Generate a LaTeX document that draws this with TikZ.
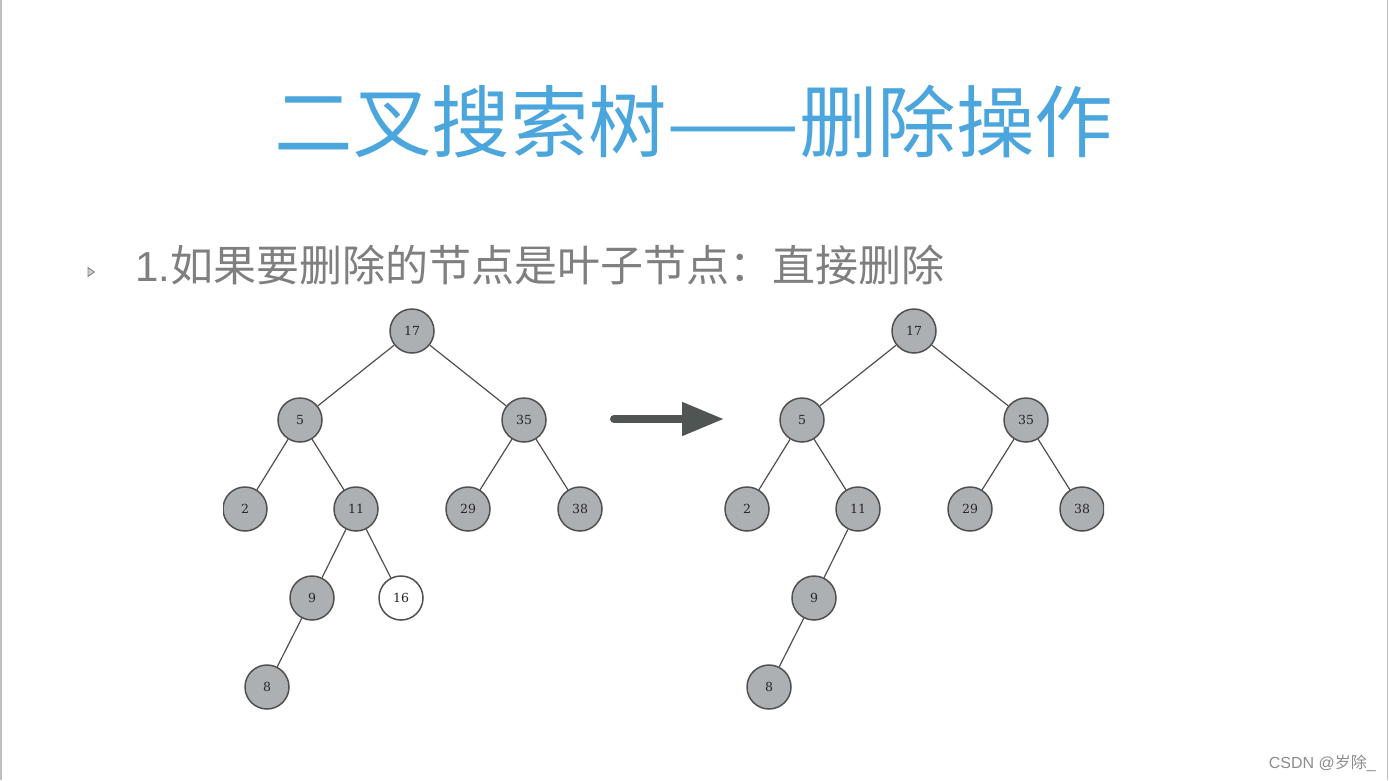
\documentclass[tikz,border=0pt]{standalone}
\usepackage{fontspec}
\setmainfont{Liberation Sans}
\newfontfamily\cjk{Noto Sans CJK SC}
\newfontfamily\nodefont{DejaVu Serif}
\usetikzlibrary{arrows.meta}
\definecolor{titleblue}{HTML}{4BA6DE}
\definecolor{txtgray}{HTML}{7F7F7F}
\definecolor{nodefill}{HTML}{ADB0B2}
\definecolor{nodeline}{HTML}{505050}
\definecolor{arrowcol}{HTML}{4F5553}
\tikzset{
  tnode/.style={circle, draw=nodeline, line width=1.5pt, fill=nodefill, minimum size=44pt, inner sep=0pt, font=\nodefont\fontsize{12.5}{13}\selectfont, text=black!85},
  wnode/.style={tnode, fill=white},
  tedge/.style={draw=nodeline, line width=1.2pt},
}
\begin{document}
\begin{tikzpicture}[x=1pt,y=-1pt]
\useasboundingbox (0,0) rectangle (1389,780);
\fill[white] (0,0) rectangle (1389,780);
\draw[black!25, line width=1.5pt] (0.75,0) -- (0.75,780);
\draw[black!25, line width=1.5pt] (1387.5,0) -- (1387.5,780);
% title
\node[anchor=base, inner sep=0pt, text=titleblue, font=\cjk\fontsize{78.5}{80}\selectfont] (title) at (694,151) {二叉搜索树——删除操作};
% bullet
\node[inner sep=0pt] (bullet) at (91,272) {};
\draw[txtgray, fill=txtgray!40, line width=0.8pt] (88,267.5) -- (94.5,272) -- (88,276.5) -- cycle;
\node[anchor=base west, inner sep=0pt, text=txtgray, font=\fontsize{42}{46}\selectfont] (line1) at (135,281) {1.{\cjk\fontsize{43}{46}\selectfont 如果要删除的节点是叶子节点：直接删除}};
% left tree
\begin{scope}
\clip (223,300) rectangle (620,720);
\node[tnode] (a17) at (412,331) {17};
\node[tnode] (a5) at (300,420) {5};
\node[tnode] (a35) at (524,420) {35};
\node[tnode] (a2) at (245,509) {2};
\node[tnode] (a11) at (356,509) {11};
\node[tnode] (a29) at (468,509) {29};
\node[tnode] (a38) at (580,509) {38};
\node[tnode] (a9) at (312,598) {9};
\node[wnode] (a16) at (401,598) {16};
\node[tnode] (a8) at (267,687) {8};
\draw[tedge] (a17) -- (a5);
\draw[tedge] (a17) -- (a35);
\draw[tedge] (a5) -- (a2);
\draw[tedge] (a5) -- (a11);
\draw[tedge] (a35) -- (a29);
\draw[tedge] (a35) -- (a38);
\draw[tedge] (a11) -- (a9);
\draw[tedge] (a11) -- (a16);
\draw[tedge] (a9) -- (a8);
\end{scope}
% arrow
\coordinate (arS) at (614,419);
\coordinate (arE) at (724,419);
\draw[arrowcol, line width=8pt, line cap=round, -{Triangle[length=42pt,width=32pt]}] (arS) -- (arE);
% right tree
\begin{scope}
\clip (700,300) rectangle (1104,720);
\node[tnode] (b17) at (914,331) {17};
\node[tnode] (b5) at (802,420) {5};
\node[tnode] (b35) at (1026,420) {35};
\node[tnode] (b2) at (747,509) {2};
\node[tnode] (b11) at (858,509) {11};
\node[tnode] (b29) at (970,509) {29};
\node[tnode] (b38) at (1082,509) {38};
\node[tnode] (b9) at (814,598) {9};
\node[tnode] (b8) at (769,687) {8};
\draw[tedge] (b17) -- (b5);
\draw[tedge] (b17) -- (b35);
\draw[tedge] (b5) -- (b2);
\draw[tedge] (b5) -- (b11);
\draw[tedge] (b35) -- (b29);
\draw[tedge] (b35) -- (b38);
\draw[tedge] (b11) -- (b9);
\draw[tedge] (b9) -- (b8);
\end{scope}
% watermark
\node[anchor=base east, inner sep=0pt, text=black!45, font=\fontsize{16}{18}\selectfont] (wm) at (1376,768) {CSDN @{\cjk 岁除}\_};
\end{tikzpicture}
\end{document}
